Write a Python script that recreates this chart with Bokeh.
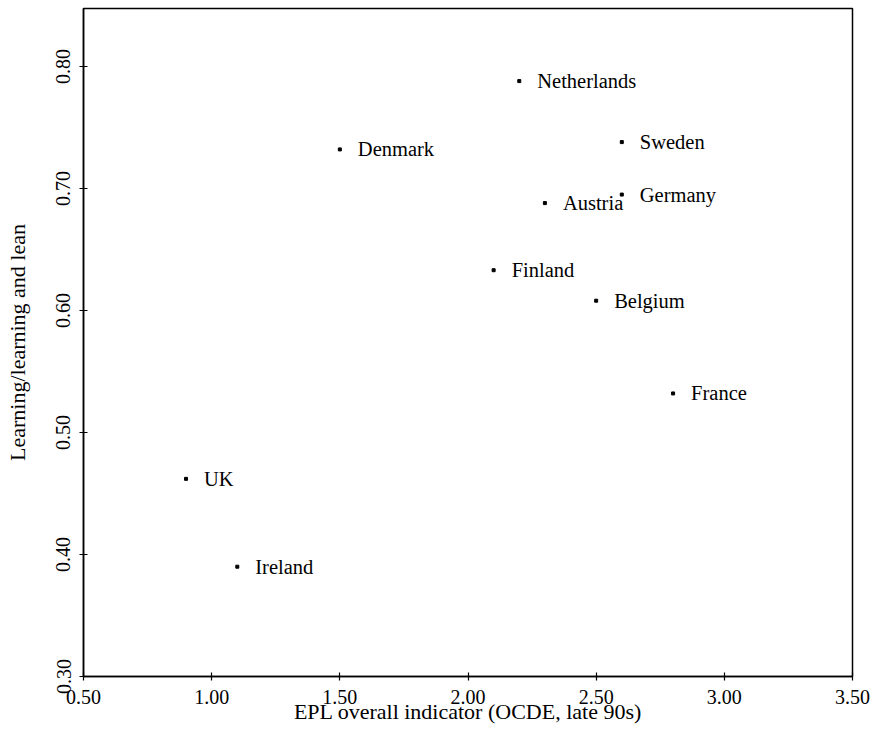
from bokeh.plotting import figure
from bokeh.models import ColumnDataSource, LabelSet, Range1d, FixedTicker, NumeralTickFormatter
from bokeh.embed import file_html
from bokeh.resources import INLINE

countries = ["Netherlands", "Sweden", "Denmark", "Austria", "Germany", "Finland",
             "Belgium", "France", "UK", "Ireland"]
epl = [2.2, 2.6, 1.5, 2.3, 2.6, 2.1, 2.5, 2.8, 0.9, 1.1]
learning = [0.788, 0.738, 0.732, 0.688, 0.695, 0.633, 0.608, 0.532, 0.462, 0.390]
x_ticks = [0.5, 1.0, 1.5, 2.0, 2.5, 3.0, 3.5]
y_ticks = [0.3, 0.4, 0.5, 0.6, 0.7, 0.8]

FONT = "Liberation Serif"

p = figure(width=870, height=732, output_backend="svg", toolbar_location=None,
           x_range=Range1d(0.5, 3.5), y_range=Range1d(0.30, 0.8475),
           min_border_left=83, min_border_right=18, min_border_top=8, min_border_bottom=56)

src = ColumnDataSource(dict(x=epl, y=learning, name=countries))
p.scatter("x", "y", source=src, size=3, color="black", marker="square")
labels = LabelSet(x="x", y="y", text="name", source=src, x_offset=18, y_offset=0,
                  text_baseline="middle", text_font=FONT, text_font_size="20.5px",
                  text_color="black")
p.add_layout(labels)

p.grid.visible = False
p.outline_line_color = "black"
p.outline_line_width = 1.5
p.outline_line_alpha = 1

for ax in (p.xaxis[0], p.yaxis[0]):
    ax.axis_line_color = "black"
    ax.axis_line_width = 1.5
    ax.major_tick_line_color = "black"
    ax.major_tick_line_width = 1.2
    ax.major_tick_in = 4
    ax.major_tick_out = 4
    ax.minor_tick_line_color = None
    ax.major_label_text_font = FONT
    ax.major_label_text_font_size = "20px"
    ax.major_label_text_color = "black"
    ax.axis_label_text_font = FONT
    ax.axis_label_text_font_size = "22px"
    ax.axis_label_text_font_style = "normal"
    ax.axis_label_text_color = "black"
    ax.formatter = NumeralTickFormatter(format="0.00")

p.xaxis[0].ticker = FixedTicker(ticks=x_ticks)
p.yaxis[0].ticker = FixedTicker(ticks=y_ticks)
p.xaxis[0].axis_label = "EPL overall indicator (OCDE, late 90s)"
p.yaxis[0].axis_label = "Learning/learning and lean"
p.yaxis[0].major_label_orientation = "vertical"
p.xaxis[0].major_label_standoff = 9
p.yaxis[0].major_label_standoff = 9
p.xaxis[0].axis_label_standoff = -8
p.yaxis[0].axis_label_standoff = 24

open("out.html", "w").write(file_html(p, INLINE))
